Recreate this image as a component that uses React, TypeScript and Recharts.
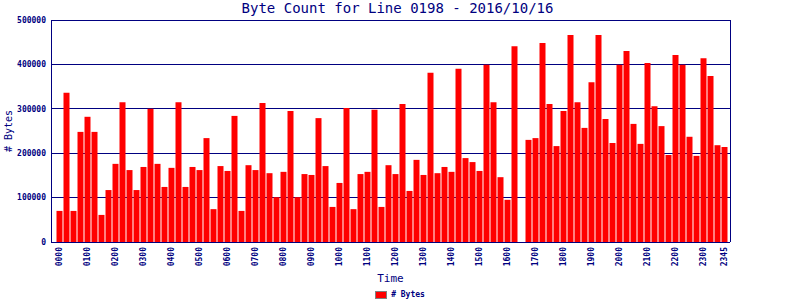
import React from "react";
import { BarChart, Bar, XAxis, YAxis, CartesianGrid, Legend, Label } from "recharts";

const times = [
  "0000", "0015", "0030", "0045", "0100", "0115", "0130", "0145",
  "0200", "0215", "0230", "0245", "0300", "0315", "0330", "0345",
  "0400", "0415", "0430", "0445", "0500", "0515", "0530", "0545",
  "0600", "0615", "0630", "0645", "0700", "0715", "0730", "0745",
  "0800", "0815", "0830", "0845", "0900", "0915", "0930", "0945",
  "1000", "1015", "1030", "1045", "1100", "1115", "1130", "1145",
  "1200", "1215", "1230", "1245", "1300", "1315", "1330", "1345",
  "1400", "1415", "1430", "1445", "1500", "1515", "1530", "1545",
  "1600", "1615", "1630", "1645", "1700", "1715", "1730", "1745",
  "1800", "1815", "1830", "1845", "1900", "1915", "1930", "1945",
  "2000", "2015", "2030", "2045", "2100", "2115", "2130", "2145",
  "2200", "2215", "2230", "2245", "2300", "2315", "2330", "2345",
];

const bytes = [
  70000, 336000, 70000, 248000, 282000, 248000, 61000, 117000,
  176000, 315000, 162000, 117000, 169000, 300000, 176000, 124000,
  167000, 315000, 124000, 169000, 162000, 234000, 74000, 171000,
  160000, 284000, 70000, 173000, 162000, 313000, 155000, 101000,
  158000, 295000, 101000, 153000, 151000, 279000, 171000, 79000,
  133000, 302000, 74000, 153000, 158000, 298000, 79000, 173000,
  153000, 311000, 115000, 185000, 151000, 381000, 155000, 169000,
  158000, 390000, 189000, 180000, 160000, 399000, 315000, 146000,
  95000, 441000, 0, 230000, 234000, 448000, 311000, 216000,
  295000, 466000, 315000, 257000, 360000, 466000, 277000, 223000,
  399000, 430000, 266000, 221000, 403000, 306000, 261000, 196000,
  421000, 399000, 237000, 194000, 414000, 374000, 218000, 214000,
];

const xTicks = [
  "0000", "0100", "0200", "0300", "0400", "0500", "0600", "0700",
  "0800", "0900", "1000", "1100", "1200", "1300", "1400", "1500",
  "1600", "1700", "1800", "1900", "2000", "2100", "2200", "2300", "2345",
];
const yTicks = [0, 100000, 200000, 300000, 400000, 500000];

const data = times.map((t, i) => ({ time: t, bytes: bytes[i] }));

const NAVY = "#000080";
const MONO = "'DejaVu Sans Mono', 'Liberation Mono', monospace";

const XTick = (props: any) => {
  const { x, y, payload } = props;
  return (
    <text
      x={x}
      y={y}
      dy="0.35em"
      transform={`rotate(-90 ${x} ${y})`}
      textAnchor="end"
      fill={NAVY}
      fontSize={8}
      fontWeight="bold"
      fontFamily={MONO}
    >
      {payload.value}
    </text>
  );
};

const YTitle = (props: any) => {
  const { viewBox } = props;
  const cx = viewBox.x + 8;
  const cy = viewBox.y + viewBox.height / 2;
  return (
    <text
      x={cx}
      y={cy}
      dy="0.35em"
      transform={`rotate(-90 ${cx} ${cy})`}
      textAnchor="middle"
      fill={NAVY}
      fontSize={10}
      fontFamily={MONO}
    >
      # Bytes
    </text>
  );
};

const XTitle = (props: any) => {
  const { viewBox } = props;
  return (
    <text
      x={viewBox.x + viewBox.width / 2}
      y={viewBox.y + 40}
      textAnchor="middle"
      fill={NAVY}
      fontSize={11}
      fontFamily={MONO}
    >
      Time
    </text>
  );
};

const LegendBox = () => (
  <div
    style={{
      display: "flex",
      alignItems: "center",
      justifyContent: "center",
      height: 9,
      fontFamily: MONO,
      fontSize: 8,
      fontWeight: "bold",
      color: NAVY,
    }}
  >
    <span style={{ width: 10, height: 6, background: "#ff0000", border: "1px solid #808080", marginRight: 4 }} />
    # Bytes
  </div>
);

export default function App() {
  return (
    <div style={{ position: "absolute", left: 0, top: 0, width: 800, height: 300, background: "#fff" }}>
      <style>{".recharts-wrapper line { shape-rendering: crispEdges; }"}</style>
      <div
        style={{
          position: "absolute",
          left: 0,
          top: 0,
          width: 795,
          textAlign: "center",
          fontFamily: MONO,
          fontSize: 14,
          lineHeight: "16px",
          color: NAVY,
          zIndex: 1,
        }}
      >
        Byte Count for Line 0198 - 2016/10/16
      </div>
      <BarChart width={800} height={300} data={data} margin={{ top: 20, right: 69, left: 0, bottom: 0 }}>
        <CartesianGrid vertical={false} stroke={NAVY} strokeWidth={1} />
        <XAxis
          dataKey="time"
          ticks={xTicks}
          interval={0}
          height={58}
          padding={{ left: 4.5, right: 2.5 }}
          tickSize={0}
          tickMargin={5}
          tickLine={false}
          axisLine={{ stroke: NAVY }}
          tick={<XTick />}
        >
          <Label content={<XTitle />} />
        </XAxis>
        <YAxis
          width={51}
          domain={[0, 500000]}
          ticks={yTicks}
          interval={0}
          tickSize={0}
          tickMargin={5}
          tickLine={false}
          axisLine={{ stroke: NAVY }}
          tick={{ fill: NAVY, fontSize: 8, fontWeight: "bold", fontFamily: MONO }}
        >
          <Label content={<YTitle />} />
        </YAxis>
        <YAxis
          yAxisId="frame"
          orientation="right"
          width={1}
          tick={false}
          tickLine={false}
          axisLine={{ stroke: NAVY }}
        />
        <Legend
          verticalAlign="middle"
          align="center"
          wrapperStyle={{ top: 290, left: 0, width: 800 }}
          content={<LegendBox />}
        />
        <Bar dataKey="bytes" name="# Bytes" fill="#ff0000" barSize={6} isAnimationActive={false} />
      </BarChart>
    </div>
  );
}
